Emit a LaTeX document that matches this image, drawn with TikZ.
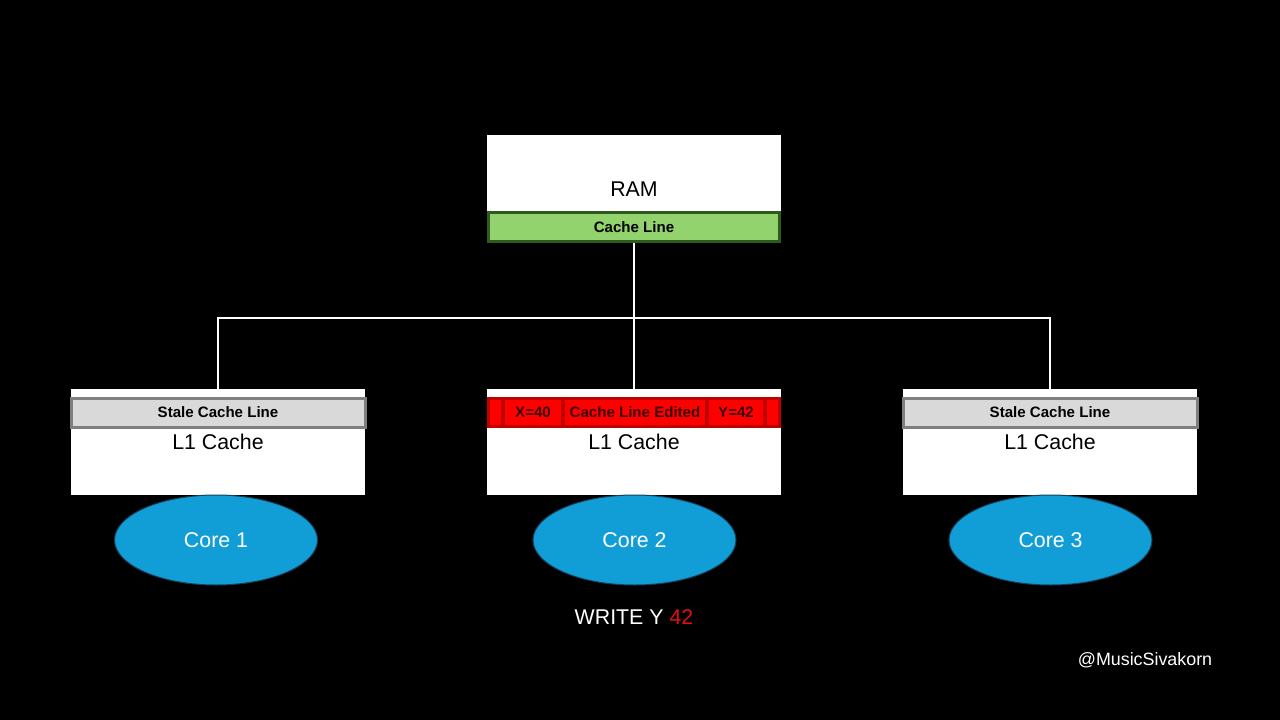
\documentclass[tikz,border=0pt]{standalone}
\usepackage{fontspec}
\setmainfont{Liberation Sans}
\usetikzlibrary{shapes.geometric}
\definecolor{ramgreen}{HTML}{92D36E}
\definecolor{ramgreenline}{HTML}{2F5A1E}
\definecolor{stalefill}{HTML}{D9D9D9}
\definecolor{staleline}{HTML}{7F7F7F}
\definecolor{editred}{HTML}{FF0000}
\definecolor{editline}{HTML}{C00000}
\definecolor{edittext}{HTML}{3A0000}
\definecolor{corefill}{HTML}{119ED6}
\definecolor{coreline}{HTML}{16405E}
\definecolor{writered}{HTML}{E01010}
\tikzset{
  bigtext/.style={font=\fontsize{16pt}{19pt}\selectfont},
  bartext/.style={font=\fontsize{11.3pt}{13pt}\selectfont\bfseries},
  membox/.style={fill=white, draw=none, minimum width=220.5pt, inner sep=0pt, bigtext, text=black},
  greenbar/.style={fill=ramgreen, draw=ramgreenline, line width=2.25pt, minimum width=218.25pt, minimum height=21.75pt, inner sep=0pt, bartext, text=black},
  stalebar/.style={fill=stalefill, draw=staleline, line width=2.25pt, minimum width=220.5pt, minimum height=21.75pt, inner sep=0pt, bartext, text=black},
  redseg/.style={fill=editred, draw=editline, line width=1.5pt, minimum height=21.75pt, inner sep=0pt, bartext, text=edittext},
  core/.style={ellipse, fill=corefill, draw=coreline, line width=0.75pt, minimum width=152.25pt, minimum height=67.5pt, inner sep=0pt, bigtext, text=white},
  wire/.style={draw=white, line width=1.5pt}
}
\begin{document}
\begin{tikzpicture}[x=0.75pt,y=-0.75pt]
\useasboundingbox (0,0) rectangle (1280,720);
\fill[black] (0,0) rectangle (1280,720);

% RAM
\node[membox, minimum height=81pt] (ram) at (634,189) {RAM};
\node[greenbar] (ramline) at (634,227) {Cache Line};

% L1 caches
\node[membox, minimum height=79.5pt] (l1a) at (218,442) {L1 Cache};
\node[membox, minimum height=79.5pt] (l1b) at (634,442) {L1 Cache};
\node[membox, minimum height=79.5pt] (l1c) at (1050,442) {L1 Cache};

\node[stalebar] (stalea) at (218,412.5) {Stale Cache Line};
\node[stalebar] (stalec) at (1050,412.5) {Stale Cache Line};

% edited cache line segments
\node[redseg, minimum width=10.5pt] (s1) at (495,412.5) {};
\node[redseg, minimum width=43.5pt] (s2) at (533,412.5) {X=40};
\node[redseg, minimum width=106.5pt] (s3) at (635,412.5) {Cache Line Edited};
\node[redseg, minimum width=42pt] (s4) at (736,412.5) {Y=42};
\node[redseg, minimum width=10.5pt] (s5) at (773,412.5) {};
\draw[editline, line width=2.25pt] (488.5,398.5) rectangle (779.5,426.5);

% connectors
\coordinate (j) at (634,318);
\draw[wire] (ramline.south) -- (l1b.north);
\draw[wire] (l1a.north) |- (j) -| (l1c.north);

% cores
\node[core] (c1) at (216,540) {Core 1};
\node[core] (c2) at (634.5,540) {Core 2};
\node[core] (c3) at (1050.5,540) {Core 3};

% labels
\node[bigtext, text=white, inner sep=0pt] (write) at (634,617) {WRITE Y \textcolor{writered}{42}};
\node[font=\fontsize{13.4pt}{15pt}\selectfont, text=white, inner sep=0pt] (credit) at (1145,660) {@MusicSivakorn};
\end{tikzpicture}
\end{document}
